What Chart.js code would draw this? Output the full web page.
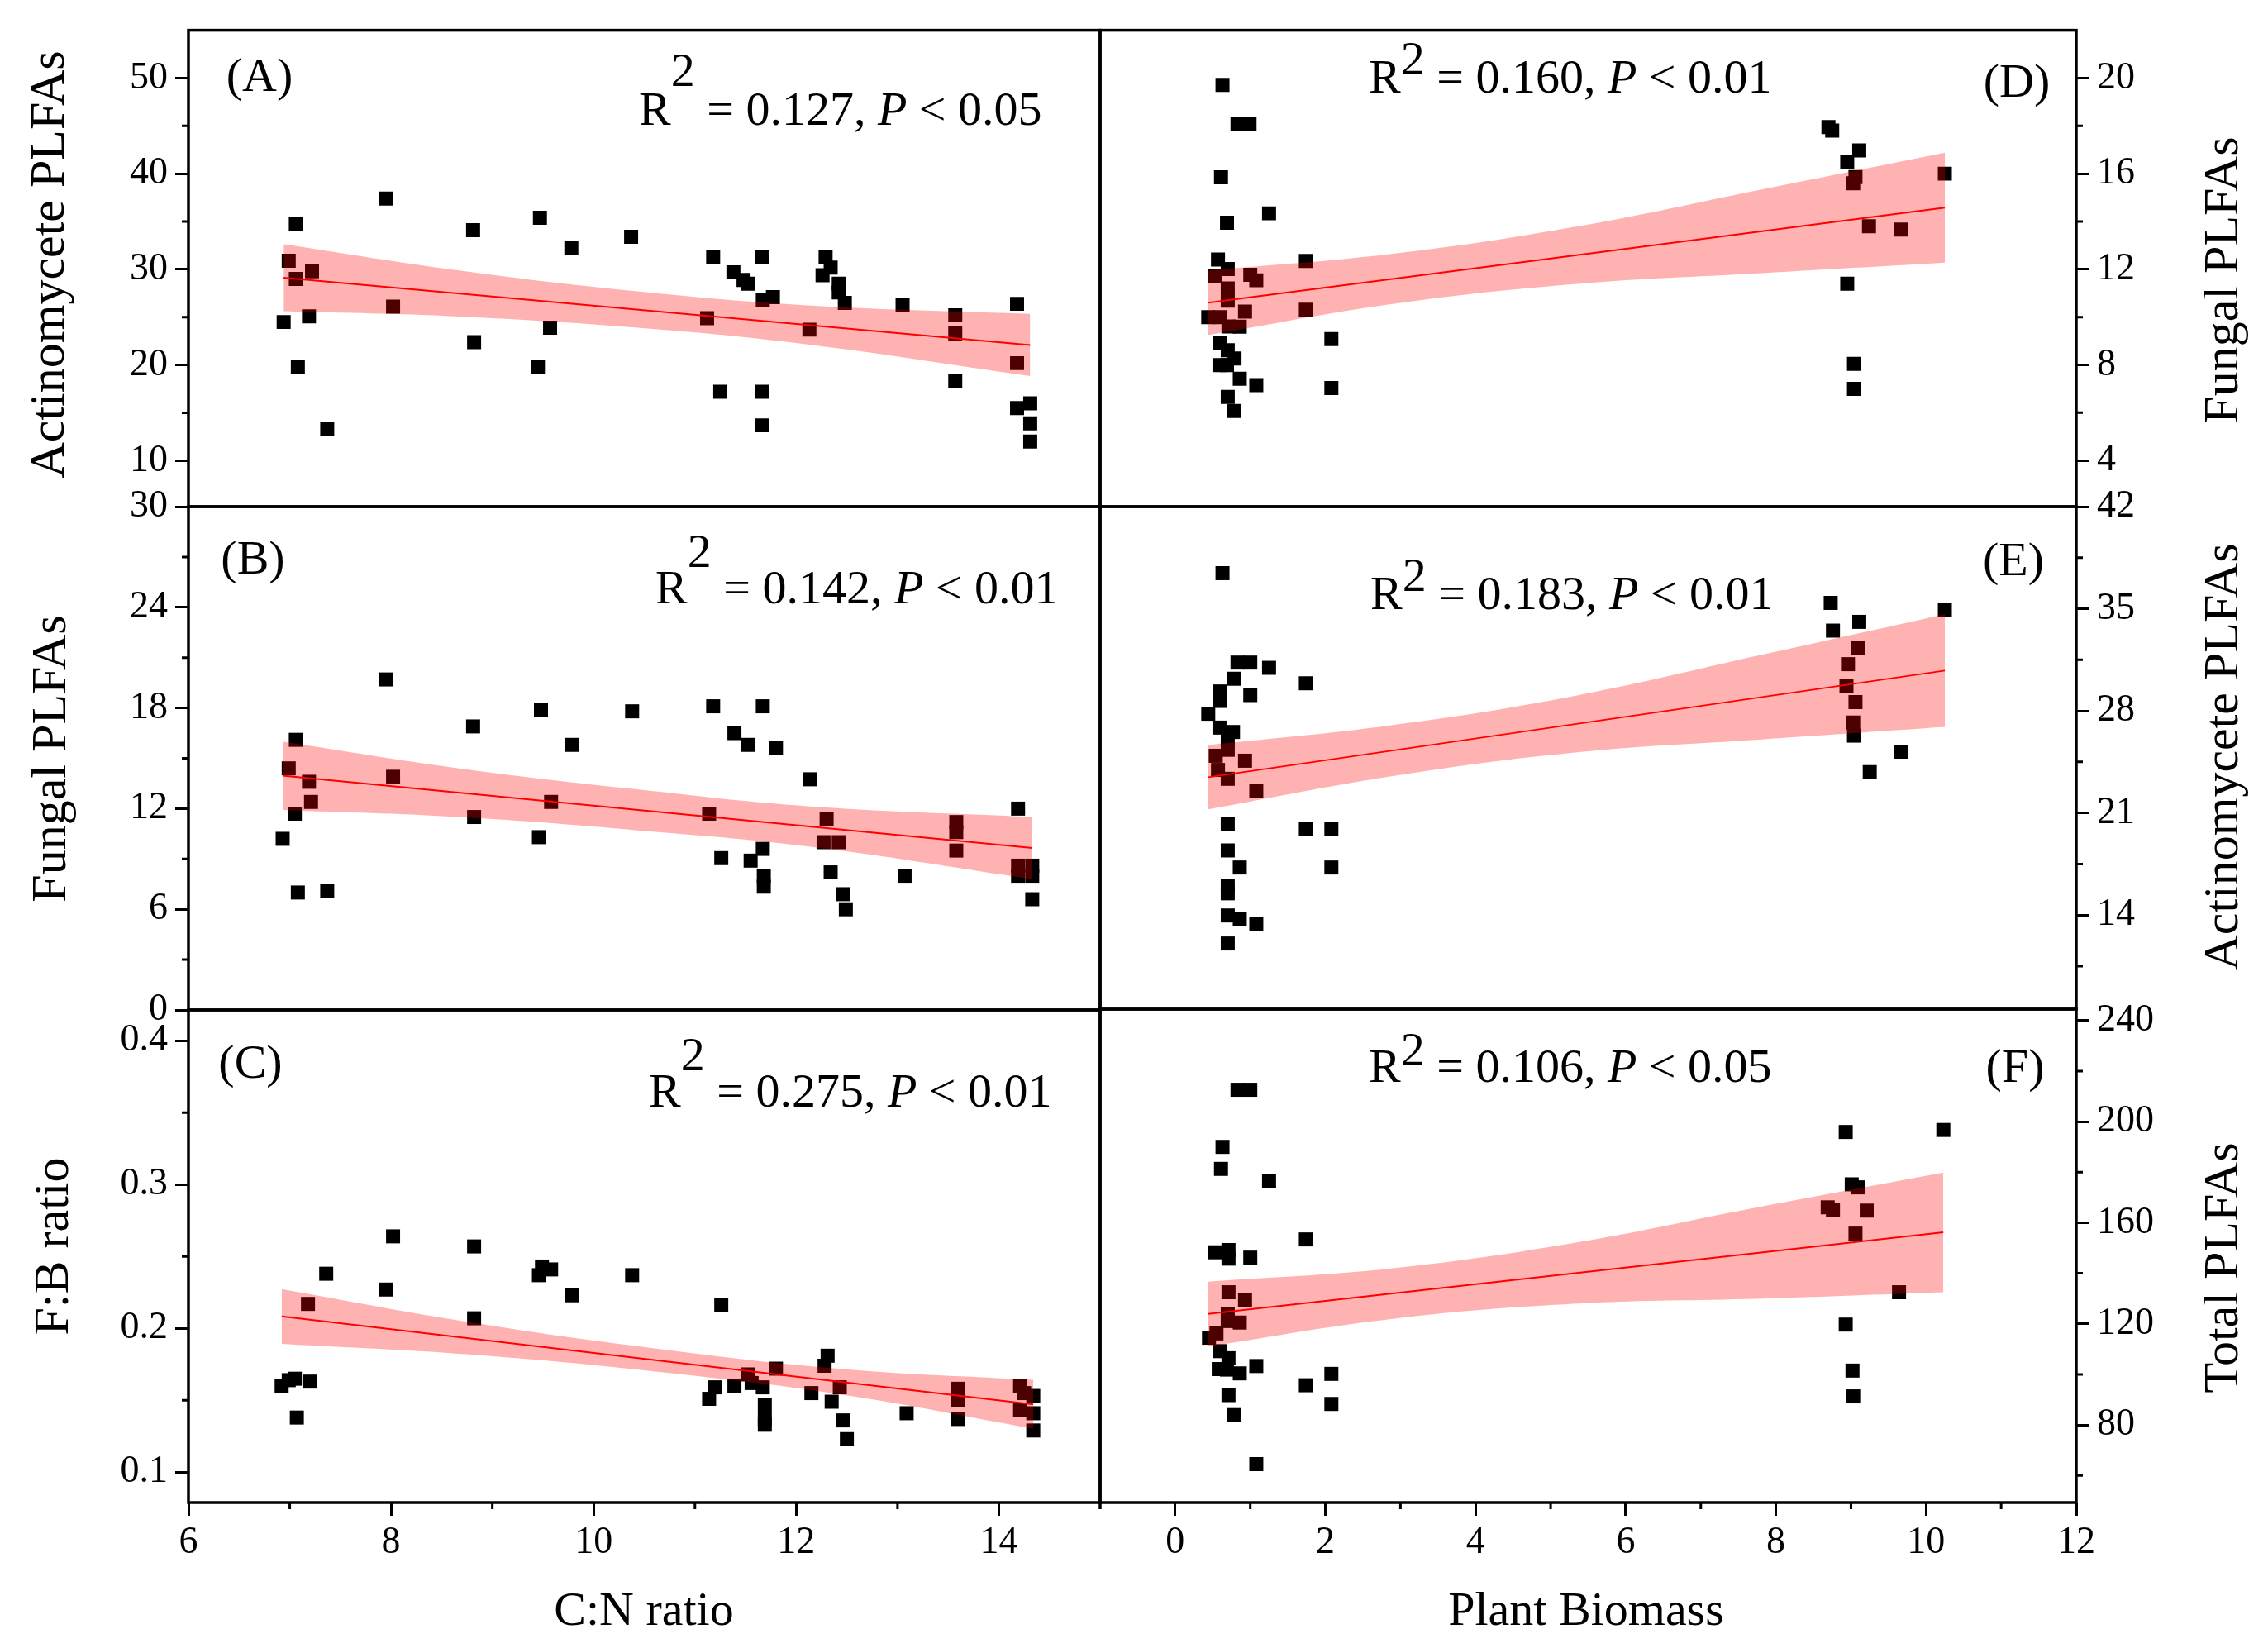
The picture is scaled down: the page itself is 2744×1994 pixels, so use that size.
<!DOCTYPE html>
<html>
<head>
<meta charset="utf-8">
<script src="https://cdn.jsdelivr.net/npm/chart.js@4.4.1/dist/chart.umd.min.js"></script>
<style>
html,body{margin:0;padding:0;background:#fff;}
#wrap{position:relative;width:2744px;height:1994px;background:#fff;}
#wrap canvas{position:absolute;left:0;top:0;}
</style>
</head>
<body>
<div id="wrap"></div>
<script>
// ---------------- DATA ----------------
// Panel A: C:N ratio vs Actinomycete PLFAs
const cnA = [6.94,6.99,7.06,7.06,7.08,7.19,7.22,7.37,7.95,8.02,8.81,8.82,9.45,9.47,9.57,9.78,10.37,11.12,11.18,11.25,11.38,11.48,11.52,11.66,11.67,11.66,11.66,11.77,12.13,12.26,12.29,12.34,12.42,12.42,12.48,13.05,13.57,13.57,13.57,14.18,14.18,14.18,14.31,14.31,14.31];
const actinoA = [24.5,30.9,34.8,29.0,19.8,25.1,29.8,13.3,37.4,26.1,34.1,22.4,19.8,35.4,23.9,32.2,33.4,24.9,31.3,17.2,29.7,28.9,28.5,31.3,26.8,17.2,13.7,27.1,23.7,29.4,31.3,30.2,28.5,27.6,26.5,26.3,25.2,23.3,18.3,26.4,20.2,15.5,16.0,13.9,12.0];
const bandXA = [6.94,8.67,10.41,12.14,14.31];
const bandUpA = [32.63,29.88,27.72,26.22,25.35];
const bandLoA = [25.63,25.08,23.92,22.12,18.85];
const fitXA = [6.94,14.31];
const fitYA = [29.13,22.10];

// Panel B: C:N ratio vs Fungal PLFAs
const cnB = [6.93,6.99,7.06,7.05,7.08,7.19,7.21,7.37,7.95,8.02,8.81,8.82,9.46,9.48,9.58,9.79,10.38,11.14,11.18,11.26,11.39,11.52,11.55,11.67,11.67,11.68,11.68,11.80,12.14,12.30,12.27,12.42,12.34,12.46,12.49,13.07,13.58,13.58,13.58,14.19,14.19,14.19,14.33,14.33,14.33];
const fungalB = [10.2,14.4,16.1,11.7,7.0,13.6,12.4,7.1,19.7,13.9,16.9,11.5,10.3,17.9,12.4,15.8,17.8,11.7,18.1,9.05,16.5,15.8,8.9,18.1,9.6,8.0,7.35,15.6,13.75,11.4,10.0,10.0,8.2,6.9,6.0,8.0,11.2,10.6,9.5,12.0,8.6,8.0,8.6,8.0,6.6];
const bandXB = [6.93,8.67,10.41,12.14,14.33];
const bandUpB = [16.0,14.4,13.16,12.13,11.5];
const bandLoB = [11.92,11.5,10.72,9.73,7.8];
const fitXB = [6.93,14.33];
const fitYB = [13.96,9.65];

// Panel C: C:N ratio vs F:B ratio
const cnC = [6.92,6.99,7.05,7.07,7.18,7.20,7.36,7.95,8.02,8.82,8.82,9.46,9.49,9.58,9.79,10.38,11.14,11.20,11.26,11.39,11.52,11.56,11.67,11.69,11.69,11.69,11.80,12.15,12.28,12.31,12.35,12.43,12.46,12.50,13.09,13.60,13.60,13.60,14.21,14.21,14.34,14.34,14.34,14.25];
const fbC = [0.160,0.164,0.165,0.138,0.217,0.163,0.238,0.227,0.264,0.257,0.207,0.237,0.243,0.241,0.223,0.237,0.151,0.159,0.216,0.160,0.168,0.162,0.159,0.147,0.137,0.133,0.172,0.155,0.174,0.181,0.149,0.159,0.136,0.123,0.141,0.158,0.150,0.137,0.160,0.143,0.153,0.141,0.129,0.155];
const bandXC = [6.92,8.77,10.63,12.48,14.34];
const bandUpC = [0.2273,0.2043,0.1858,0.1716,0.1642];
const bandLoC = [0.1893,0.1819,0.1698,0.1536,0.1302];
const fitXC = [6.92,14.34];
const fitYC = [0.2083,0.1472];

// Panel D: Plant biomass vs Fungal PLFAs
const bioD = [0.63,0.83,0.99,0.61,1.25,0.69,0.57,0.70,0.53,1.00,1.08,0.70,0.70,1.74,1.74,0.44,0.60,0.93,0.71,0.86,0.60,0.70,0.79,0.59,0.69,0.86,1.08,0.70,0.78,2.08,2.08,8.70,8.75,9.11,8.95,9.06,9.03,9.24,9.67,10.25,8.95,9.04,9.04];
const fungalD = [19.71,18.08,18.08,15.85,14.34,13.95,12.41,12.01,11.72,11.77,11.54,11.2,10.69,12.35,10.31,10.0,10.0,10.23,9.61,9.60,8.93,8.61,8.27,7.99,7.99,7.42,7.15,6.66,6.07,9.08,7.03,17.95,17.8,16.97,16.5,15.86,15.6,13.8,13.66,16.0,11.4,8.04,7.0];
const bandXD = [0.44,2.90,5.35,7.81,10.25];
const bandUpD = [11.95,12.65,13.79,15.34,16.88];
const bandLoD = [9.25,10.55,11.39,11.84,12.28];
const fitXD = [0.44,10.25];
const fitYD = [10.6,14.58];

// Panel E: Plant biomass vs Actinomycete PLFAs
const bioE = [0.63,0.83,1.00,1.25,0.78,0.60,0.60,1.00,1.74,0.44,0.59,0.77,0.70,0.70,0.54,0.93,0.57,0.70,1.08,0.70,1.74,2.08,0.70,0.86,2.08,0.70,0.70,0.70,0.86,1.08,0.70,8.73,8.76,9.11,9.09,8.96,8.94,9.06,9.03,9.04,9.67,9.25,10.25];
const actinoE = [37.44,31.31,31.31,30.95,30.2,29.33,28.68,29.08,29.89,27.8,26.85,26.55,26.04,25.33,24.92,24.58,23.95,23.34,22.49,20.22,19.9,19.9,18.43,17.26,17.26,16.0,15.49,13.97,13.73,13.36,12.05,35.4,33.5,34.1,32.3,31.2,29.7,28.6,27.2,26.3,25.2,23.8,34.9];
const bandXE = [0.44,2.90,5.35,7.81,10.25];
const bandUpE = [25.65,27.03,29.06,31.84,34.62];
const bandLoE = [21.25,23.53,25.16,26.04,26.9];
const fitXE = [0.44,10.25];
const fitYE = [23.45,30.76];

// Panel F: Plant biomass vs Total PLFAs
const bioF = [0.83,1.00,0.63,0.61,1.25,1.74,0.53,0.71,0.71,1.00,0.71,0.93,0.70,0.70,0.86,0.55,0.45,0.60,0.71,0.58,0.69,0.86,1.08,0.71,0.78,1.08,1.74,2.08,2.08,8.93,10.23,9.01,9.09,8.69,8.76,9.21,9.06,9.64,8.93,9.02,9.03];
const totalF = [212.6,212.6,190.0,181.3,176.4,153.4,148.3,149.2,145.8,146.2,132.5,129.3,123.9,121.1,120.5,116.2,114.5,109.2,106.4,102.1,101.9,100.4,103.3,91.8,83.9,64.5,95.7,100.2,88.3,195.9,196.7,175.2,174.0,166.1,164.9,164.8,155.7,132.5,119.7,101.5,91.3];
const bandXF = [0.44,2.90,5.35,7.81,10.23];
const bandUpF = [136.7,142.0,152.2,166.4,179.85];
const bandLoF = [111.1,122.0,128.0,130.0,132.55];
const fitXF = [0.44,10.23];
const fitYF = [123.9,156.2];

// Tick values
const xTicksLeft = [6,8,10,12,14];
const xMinorLeft = [7,9,11,13,15];
const xTicksRight = [0,2,4,6,8,10,12];
const xMinorRight = [-1,1,3,5,7,9,11];
const yTicksA = [10,20,30,40,50];   const yMinorA = [15,25,35,45];
const yTicksB = [0,6,12,18,24,30];  const yMinorB = [3,9,15,21,27];
const yTicksC = [0.1,0.2,0.3,0.4];  const yMinorC = [0.15,0.25,0.35];
const yTicksD = [4,8,12,16,20];     const yMinorD = [6,10,14,18];
const yTicksE = [14,21,28,35,42];   const yMinorE = [10.5,17.5,24.5,31.5,38.5];
const yTicksF = [80,120,160,200,240]; const yMinorF = [60,100,140,180,220];

// Texts
const panelTags = ['(A)','(B)','(C)','(D)','(E)','(F)'];
const r2Values = ['0.127','0.142','0.275','0.160','0.183','0.106'];
const pValues = ['0.05','0.01','0.01','0.01','0.01','0.05'];
const yTitles = ['Actinomycete PLFAs','Fungal PLFAs','F:B ratio','Fungal PLFAs','Actinomycete PLFAs','Total PLFAs'];
const xTitles = ['C:N ratio','Plant Biomass'];

// ---------------- LAYOUT / STYLE ----------------
const W = 2744, H = 1994;
const FONT = "'Liberation Serif','Times New Roman',serif";
const wrap = document.getElementById('wrap');

const panels = [
  {side:'left', L:228, R:1331, T:27, B:613, xMin:6, xMax:15, yMin:5.2, yMax:55,
   x:cnA, y:actinoA, bx:bandXA, bu:bandUpA, bl:bandLoA, fx:fitXA, fy:fitYA,
   xt:xTicksLeft, xm:xMinorLeft, yt:yTicksA, ym:yMinorA, showX:false,
   tag:[314,110], r2:[773,151], raise:47, ytitle:[77,320], xtitle:null, idx:0},
  {side:'left', L:228, R:1331, T:613, B:1222, xMin:6, xMax:15, yMin:0, yMax:30,
   x:cnB, y:fungalB, bx:bandXB, bu:bandUpB, bl:bandLoB, fx:fitXB, fy:fitYB,
   xt:xTicksLeft, xm:xMinorLeft, yt:yTicksB, ym:yMinorB, showX:false,
   tag:[306,694], r2:[793,730], raise:44, ytitle:[79,918], xtitle:null, idx:1},
  {side:'left', L:228, R:1331, T:1222, B:1818, xMin:6, xMax:15, yMin:0.0789, yMax:0.4214,
   x:cnC, y:fbC, bx:bandXC, bu:bandUpC, bl:bandLoC, fx:fitXC, fy:fitYC,
   xt:xTicksLeft, xm:xMinorLeft, yt:yTicksC, ym:yMinorC, showX:true,
   tag:[303,1304], r2:[785,1339], raise:44, ytitle:[82,1508], xtitle:[779,1966,0], idx:2},
  {side:'right', L:1331, R:2512, T:27, B:613, xMin:-1, xMax:12, yMin:2.07, yMax:22,
   x:bioD, y:fungalD, bx:bandXD, bu:bandUpD, bl:bandLoD, fx:fitXD, fy:fitYD,
   xt:xTicksRight, xm:xMinorRight, yt:yTicksD, ym:yMinorD, showX:false,
   tag:[2440,117], r2:[1656,112], raise:22, ytitle:[2707,339], xtitle:null, idx:3},
  {side:'right', L:1331, R:2512, T:613, B:1221, xMin:-1, xMax:12, yMin:7.55, yMax:42,
   x:bioE, y:actinoE, bx:bandXE, bu:bandUpE, bl:bandLoE, fx:fitXE, fy:fitYE,
   xt:xTicksRight, xm:xMinorRight, yt:yTicksE, ym:yMinorE, showX:false,
   tag:[2436,696], r2:[1658,737], raise:22, ytitle:[2707,916], xtitle:null, idx:4},
  {side:'right', L:1331, R:2512, T:1221, B:1818, xMin:-1, xMax:12, yMin:49.3, yMax:244.5,
   x:bioF, y:totalF, bx:bandXF, bu:bandUpF, bl:bandLoF, fx:fitXF, fy:fitYF,
   xt:xTicksRight, xm:xMinorRight, yt:yTicksF, ym:yMinorF, showX:true,
   tag:[2438,1309], r2:[1656,1309], raise:20, ytitle:[2707,1534], xtitle:[1919,1966,1], idx:5}
];

function drawR2(ctx, p) {
  const i = p.idx;
  let x = p.r2[0];
  const y = p.r2[1];
  ctx.textAlign = 'left';
  ctx.textBaseline = 'alphabetic';
  ctx.fillStyle = '#000';
  ctx.font = '58px ' + FONT;
  ctx.fillText('R', x, y); x += ctx.measureText('R').width;
  ctx.fillText('2', x, y - p.raise); x += ctx.measureText('2').width;
  const s1 = ' = ' + r2Values[i] + ', ';
  ctx.fillText(s1, x, y); x += ctx.measureText(s1).width;
  ctx.font = 'italic 58px ' + FONT;
  ctx.fillText('P', x, y); x += ctx.measureText('P').width;
  ctx.font = '58px ' + FONT;
  ctx.fillText(' < ' + pValues[i], x, y);
}

function decorPlugin(p) {
  return {
    id: 'decor' + p.idx,
    afterDraw(chart) {
      const ctx = chart.ctx;
      const a = chart.chartArea;
      const xs = chart.scales.x, ys = chart.scales.y;
      ctx.save();
      // frame
      ctx.strokeStyle = '#000';
      ctx.lineWidth = 3.5;
      ctx.strokeRect(a.left, a.top, a.right - a.left, a.bottom - a.top);
      // minor ticks
      ctx.lineWidth = 3;
      ctx.beginPath();
      p.ym.forEach(v => {
        const py = ys.getPixelForValue(v);
        if (p.side === 'left') { ctx.moveTo(a.left - 8, py); ctx.lineTo(a.left, py); }
        else { ctx.moveTo(a.right, py); ctx.lineTo(a.right + 8, py); }
      });
      if (p.showX) {
        p.xm.forEach(v => {
          const px = xs.getPixelForValue(v);
          ctx.moveTo(px, a.bottom); ctx.lineTo(px, a.bottom + 8);
        });
      }
      ctx.stroke();
      // panel tag
      ctx.fillStyle = '#000';
      ctx.font = '58px ' + FONT;
      ctx.textAlign = 'center';
      ctx.textBaseline = 'alphabetic';
      ctx.fillText(panelTags[p.idx], p.tag[0], p.tag[1]);
      // R2 text
      drawR2(ctx, p);
      // y title (rotated, reading bottom to top)
      ctx.save();
      ctx.translate(p.ytitle[0], p.ytitle[1]);
      ctx.rotate(-Math.PI / 2);
      ctx.font = '60px ' + FONT;
      ctx.textAlign = 'center';
      ctx.textBaseline = 'alphabetic';
      ctx.fillText(yTitles[p.idx], 0, 0);
      ctx.restore();
      // x title
      if (p.xtitle) {
        ctx.font = '58px ' + FONT;
        ctx.textAlign = 'center';
        ctx.textBaseline = 'alphabetic';
        ctx.fillText(xTitles[p.xtitle[2]], p.xtitle[0], p.xtitle[1]);
      }
      ctx.restore();
    }
  };
}

function makePanel(p) {
  const cv = document.createElement('canvas');
  cv.width = W; cv.height = H;
  cv.style.width = W + 'px'; cv.style.height = H + 'px';
  wrap.appendChild(cv);
  const isLeft = p.side === 'left';
  const pts = p.x.map((v, i) => ({x: v, y: p.y[i]}));
  const up = p.bx.map((v, i) => ({x: v, y: p.bu[i]}));
  const lo = p.bx.map((v, i) => ({x: v, y: p.bl[i]}));
  const fit = p.fx.map((v, i) => ({x: v, y: p.fy[i]}));
  const majorX = p.xt, majorY = p.yt;
  new Chart(cv, {
    type: 'scatter',
    data: {
      datasets: [
        {data: pts, pointStyle: 'rect', pointRadius: 12, pointHoverRadius: 12,
         backgroundColor: '#000', borderColor: '#000', borderWidth: 0, order: 3},
        {type: 'line', data: up, borderColor: 'rgba(0,0,0,0)', borderWidth: 0,
         pointRadius: 0, fill: false, tension: 0.4, order: 2},
        {type: 'line', data: lo, borderColor: 'rgba(0,0,0,0)', borderWidth: 0,
         pointRadius: 0, fill: '-1', backgroundColor: 'rgba(255,0,0,0.3)', tension: 0.4, order: 1},
        {type: 'line', data: fit, borderColor: '#ff0000', borderWidth: 2,
         pointRadius: 0, fill: false, tension: 0, order: 0}
      ]
    },
    options: {
      responsive: false,
      animation: false,
      events: [],
      layout: {padding: {left: isLeft ? 0 : p.L, right: isLeft ? (W - p.R) : 0, top: p.T, bottom: 0}},
      plugins: {legend: {display: false}, tooltip: {enabled: false}, title: {display: false}},
      scales: {
        x: {
          type: 'linear', position: 'bottom', min: p.xMin, max: p.xMax,
          afterFit: s => { s.height = H - p.B; },
          afterBuildTicks: s => { s.ticks = majorX.map(v => ({value: v})); },
          ticks: {display: p.showX, font: {family: FONT, size: 46}, color: '#000',
                  padding: 5, maxRotation: 0, autoSkip: false},
          grid: {display: p.showX, drawOnChartArea: false, drawTicks: true,
                 tickLength: 16, tickWidth: 3, tickColor: '#000'},
          border: {display: false}
        },
        y: {
          type: 'linear', position: isLeft ? 'left' : 'right', min: p.yMin, max: p.yMax,
          afterFit: s => { s.width = isLeft ? p.L : (W - p.R); },
          afterBuildTicks: s => { s.ticks = majorY.map(v => ({value: v})); },
          ticks: {font: {family: FONT, size: 46}, color: '#000', padding: 9, autoSkip: false,
                  callback: v => String(v)},
          grid: {drawOnChartArea: false, drawTicks: true, tickLength: 16, tickWidth: 3, tickColor: '#000'},
          border: {display: false}
        }
      }
    },
    plugins: [decorPlugin(p)]
  });
}

panels.forEach(makePanel);
</script>
</body>
</html>
